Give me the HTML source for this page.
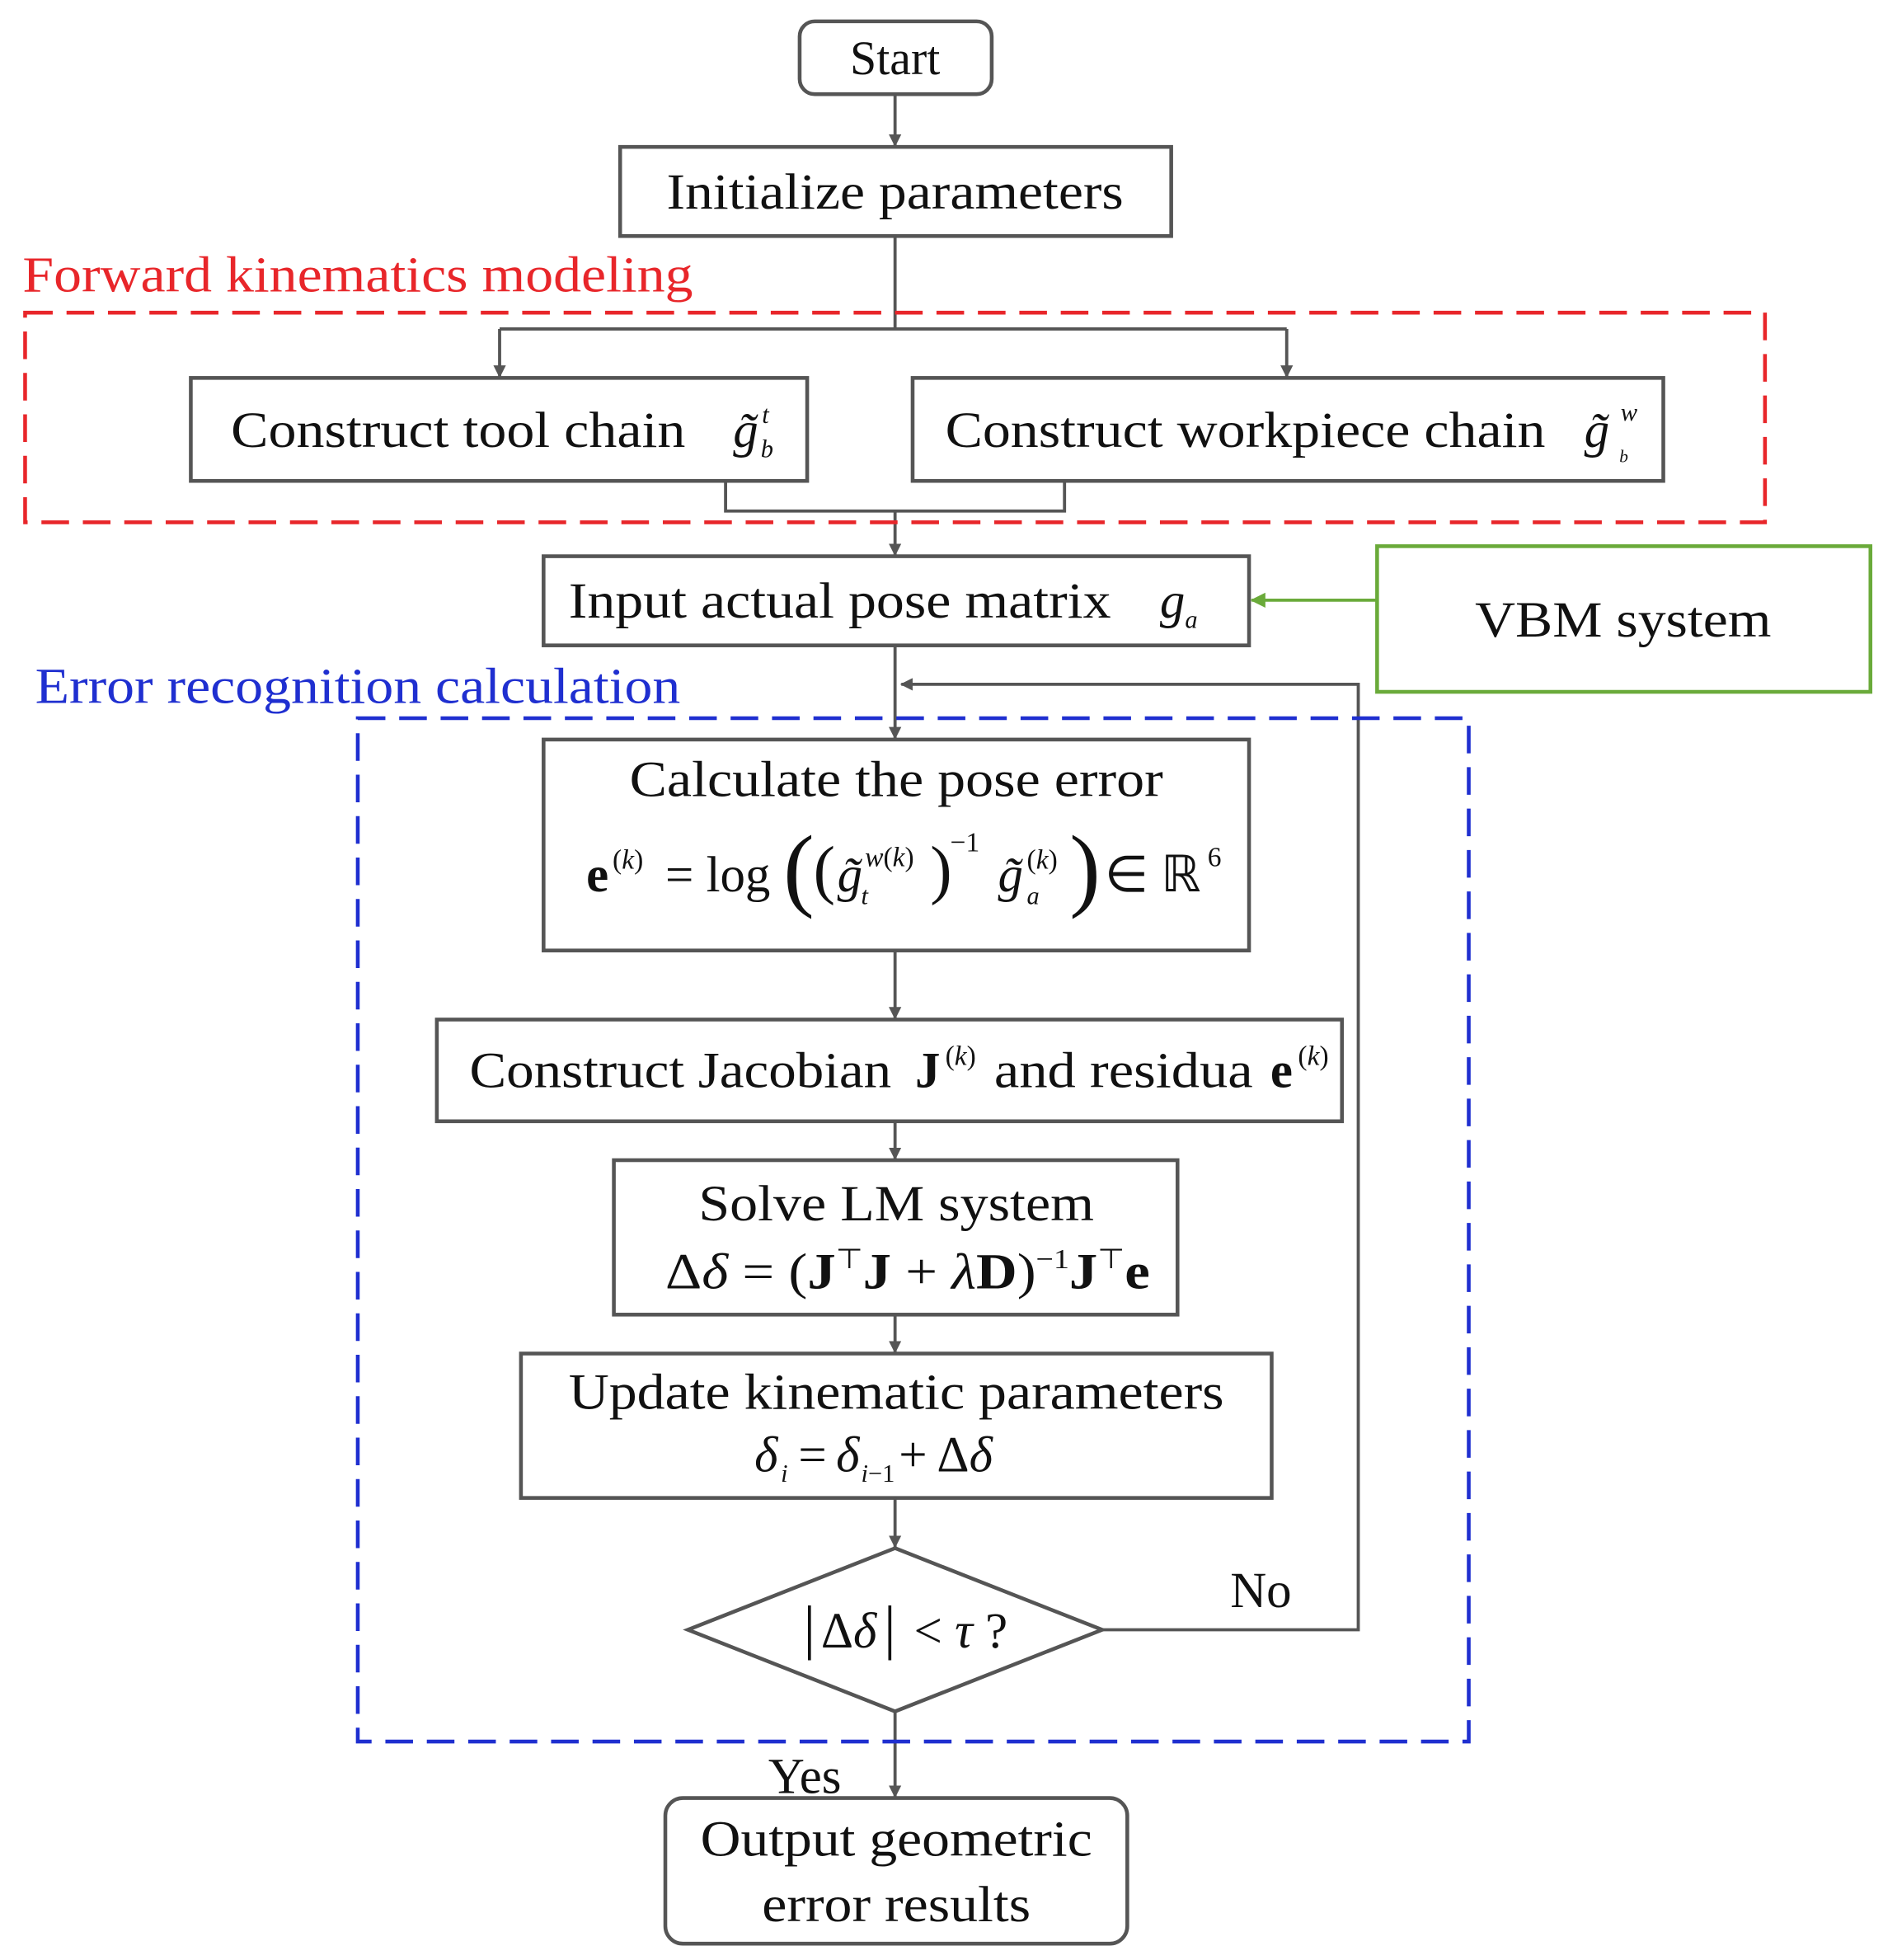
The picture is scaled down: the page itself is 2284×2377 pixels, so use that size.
<!DOCTYPE html>
<html><head><meta charset="utf-8"><style>
html,body{margin:0;padding:0;background:#fff;}
svg{display:block;}
text{font-family:"Liberation Serif",serif;fill:#111;}
</style></head><body>
<svg width="2284" height="2377" viewBox="0 0 1500 1561" preserveAspectRatio="none" xmlns="http://www.w3.org/2000/svg">
<defs>
<marker id="a" markerWidth="10" markerHeight="10" refX="9" refY="5" orient="auto" markerUnits="userSpaceOnUse"><path d="M0,0 L10,5 L0,10 Z" fill="#555"/></marker>
<marker id="g" markerWidth="12" markerHeight="12" refX="11" refY="6" orient="auto" markerUnits="userSpaceOnUse"><path d="M0,0 L12,6 L0,12 Z" fill="#6aaa3a"/></marker>
</defs>
<g fill="none" stroke="#555" stroke-width="3">
<rect x="637" y="17" width="153" height="58" rx="12"/>
<rect x="494" y="117" width="439" height="71"/>
<rect x="152" y="301" width="491" height="82"/>
<rect x="727" y="301" width="598" height="82"/>
<rect x="433" y="443" width="562" height="71"/>
<rect x="433" y="589" width="562" height="168"/>
<rect x="348" y="812" width="721" height="81"/>
<rect x="489" y="924" width="449" height="123"/>
<rect x="415" y="1078" width="598" height="115"/>
<polygon points="713,1233 878,1298 713,1363 548,1298"/>
<rect x="530" y="1432" width="368" height="116" rx="14"/>
</g>
<g fill="none" stroke="#555" stroke-width="2.5">
<line x1="713" y1="75" x2="713" y2="116" marker-end="url(#a)"/>
<polyline points="713,188 713,262"/>
<polyline points="398,262 1025,262"/>
<line x1="398" y1="262" x2="398" y2="300" marker-end="url(#a)"/>
<line x1="1025" y1="262" x2="1025" y2="300" marker-end="url(#a)"/>
<polyline points="578,383 578,407 848,407 848,383"/>
<line x1="713" y1="407" x2="713" y2="442" marker-end="url(#a)"/>
<line x1="713" y1="514" x2="713" y2="588" marker-end="url(#a)"/>
<polyline points="878,1298 1082,1298 1082,545 718,545" marker-end="url(#a)"/>
<line x1="713" y1="757" x2="713" y2="811" marker-end="url(#a)"/>
<line x1="713" y1="893" x2="713" y2="923" marker-end="url(#a)"/>
<line x1="713" y1="1047" x2="713" y2="1077" marker-end="url(#a)"/>
<line x1="713" y1="1193" x2="713" y2="1232" marker-end="url(#a)"/>
<line x1="713" y1="1363" x2="713" y2="1431" marker-end="url(#a)"/>
</g>
<rect x="20" y="249" width="1386" height="167" fill="none" stroke="#e8262a" stroke-width="3" stroke-dasharray="22,11"/>
<rect x="285" y="572" width="885" height="815" fill="none" stroke="#1f2fd0" stroke-width="3" stroke-dasharray="22,11"/>
<rect x="1097" y="435" width="393" height="116" fill="none" stroke="#6aaa3a" stroke-width="3"/>
<line x1="1097" y1="478" x2="997" y2="478" stroke="#6aaa3a" stroke-width="2.5" marker-end="url(#g)"/>

<text x="713" y="59" font-size="38" text-anchor="middle">Start</text>
<text x="713" y="166" font-size="40" text-anchor="middle" textLength="364" lengthAdjust="spacingAndGlyphs">Initialize parameters</text>
<text x="18" y="232" font-size="40" style="fill:#e8262a" textLength="534" lengthAdjust="spacingAndGlyphs">Forward kinematics modeling</text>
<text x="184" y="356" font-size="40" textLength="362" lengthAdjust="spacingAndGlyphs">Construct tool chain</text>
<text x="584" y="356" font-size="40" font-style="italic">g̃</text><text x="607" y="337" font-size="20" font-style="italic">t</text><text x="606" y="364" font-size="20" font-style="italic">b</text>
<text x="753" y="356" font-size="40" textLength="478" lengthAdjust="spacingAndGlyphs">Construct workpiece chain</text>
<text x="1262" y="356" font-size="40" font-style="italic">g̃</text><text x="1291" y="335" font-size="20" font-style="italic">w</text><text x="1290" y="368" font-size="14" font-style="italic">b</text>
<text x="453" y="492" font-size="40" textLength="432" lengthAdjust="spacingAndGlyphs">Input actual pose matrix</text>
<text x="924" y="492" font-size="40" font-style="italic">g</text><text x="944" y="500" font-size="20" font-style="italic">a</text>
<text x="1293" y="507" font-size="40" text-anchor="middle" textLength="236" lengthAdjust="spacingAndGlyphs">VBM system</text>
<text x="28" y="560" font-size="40" style="fill:#1f2fd0" textLength="514" lengthAdjust="spacingAndGlyphs">Error recognition calculation</text>

<text x="714" y="634" font-size="40" text-anchor="middle" textLength="425" lengthAdjust="spacingAndGlyphs">Calculate the pose error</text>
<text x="467" y="710" font-size="40" font-weight="bold">e</text>
<text x="488" y="692" font-size="22">(<tspan font-style="italic">k</tspan>)</text>
<text x="530" y="710" font-size="40">= log</text>
<text x="624" y="716" font-size="74">(</text>
<text x="648" y="710" font-size="52">(</text>
<text x="667" y="710" font-size="40" font-style="italic">g̃</text>
<text x="689" y="690" font-size="22"><tspan font-style="italic">w</tspan>(<tspan font-style="italic">k</tspan>)</text>
<text x="686" y="720" font-size="20" font-style="italic">t</text>
<text x="741" y="710" font-size="52">)</text>
<text x="757" y="678" font-size="22">−1</text>
<text x="795" y="710" font-size="40" font-style="italic">g̃</text>
<text x="818" y="692" font-size="22">(<tspan font-style="italic">k</tspan>)</text>
<text x="818" y="720" font-size="20" font-style="italic">a</text>
<text x="852" y="716" font-size="74">)</text>
<text x="880" y="710" font-size="40">∈ ℝ</text>
<text x="962" y="690" font-size="22">6</text>

<text x="374" y="866" font-size="40" textLength="336" lengthAdjust="spacingAndGlyphs">Construct Jacobian</text>
<text x="729" y="866" font-size="40" font-weight="bold">J</text>
<text x="753" y="848" font-size="22">(<tspan font-style="italic">k</tspan>)</text>
<text x="792" y="866" font-size="40" textLength="206" lengthAdjust="spacingAndGlyphs">and residua</text>
<text x="1012" y="866" font-size="40" font-weight="bold">e</text>
<text x="1034" y="848" font-size="22">(<tspan font-style="italic">k</tspan>)</text>

<text x="714" y="972" font-size="40" text-anchor="middle" textLength="315" lengthAdjust="spacingAndGlyphs">Solve LM system</text>
<text x="530" y="1026" font-size="40" textLength="386" lengthAdjust="spacingAndGlyphs">Δ<tspan font-style="italic">δ</tspan> = (<tspan font-weight="bold">J</tspan><tspan font-size="22" dy="-16">⊤</tspan><tspan dy="16" font-weight="bold">J</tspan> + <tspan font-style="italic">λ</tspan><tspan font-weight="bold">D</tspan>)<tspan font-size="22" dy="-16">−1</tspan><tspan dy="16" font-weight="bold">J</tspan><tspan font-size="22" dy="-16">⊤</tspan><tspan dy="16" font-weight="bold">e</tspan></text>

<text x="714" y="1122" font-size="40" text-anchor="middle" textLength="522" lengthAdjust="spacingAndGlyphs">Update kinematic parameters</text>
<text x="601" y="1172" font-size="40" font-style="italic">δ</text>
<text x="622" y="1180" font-size="20" font-style="italic">i</text>
<text x="636" y="1172" font-size="40">=</text>
<text x="666" y="1172" font-size="40" font-style="italic">δ</text>
<text x="686" y="1180" font-size="20"><tspan font-style="italic">i</tspan>−1</text>
<text x="716" y="1172" font-size="40">+ Δ<tspan font-style="italic">δ</tspan></text>

<text x="640" y="1312" font-size="48">|</text>
<text x="654" y="1312" font-size="40">Δ<tspan font-style="italic">δ</tspan></text>
<text x="704" y="1312" font-size="48">|</text>
<text x="728" y="1312" font-size="40">&lt; <tspan font-style="italic">τ</tspan> ?</text>
<text x="980" y="1280" font-size="40">No</text>
<text x="612" y="1428" font-size="40">Yes</text>
<text x="714" y="1478" font-size="40" text-anchor="middle" textLength="312" lengthAdjust="spacingAndGlyphs">Output geometric</text>
<text x="714" y="1530" font-size="40" text-anchor="middle" textLength="214" lengthAdjust="spacingAndGlyphs">error results</text>
</svg>
</body></html>
